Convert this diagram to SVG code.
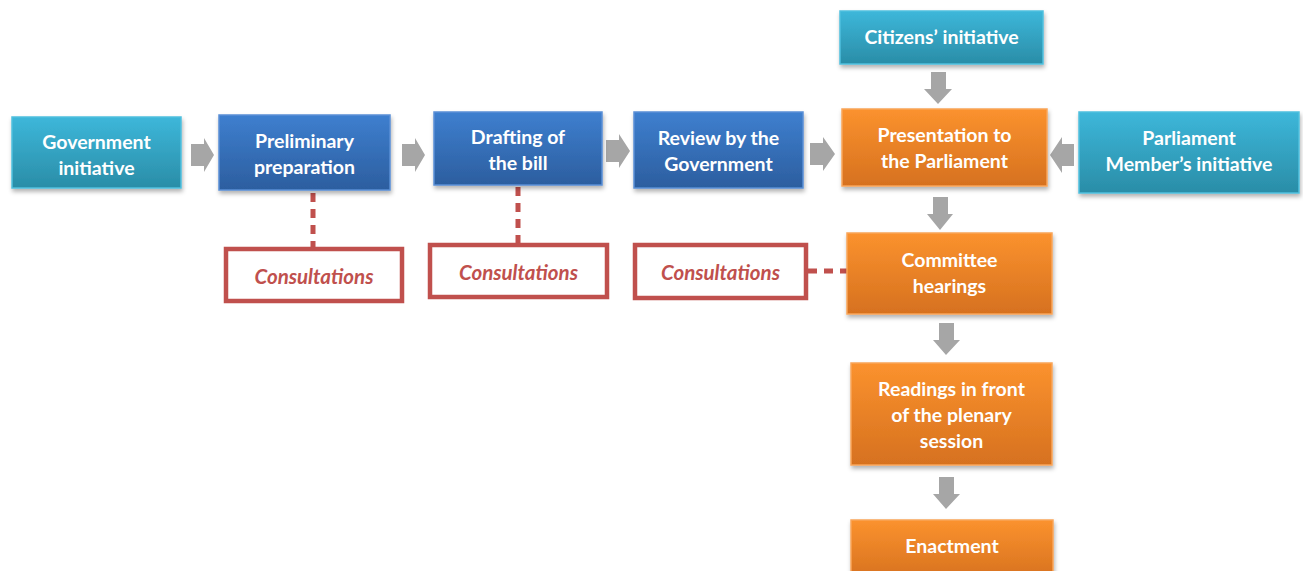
<svg xmlns="http://www.w3.org/2000/svg" width="1303" height="571" viewBox="0 0 1303 571">
<defs>
<linearGradient id="gCyan" x1="0" y1="0" x2="0" y2="1"><stop offset="0" stop-color="#3db7da"/><stop offset="1" stop-color="#2a8da7"/></linearGradient>
<linearGradient id="gBlue" x1="0" y1="0" x2="0" y2="1"><stop offset="0" stop-color="#3e7fcf"/><stop offset="1" stop-color="#2c5e9f"/></linearGradient>
<linearGradient id="gOrange" x1="0" y1="0" x2="0" y2="1"><stop offset="0" stop-color="#fb922e"/><stop offset="1" stop-color="#d6711f"/></linearGradient>
<filter id="sh" x="-10%" y="-10%" width="125%" height="140%"><feDropShadow dx="1" dy="3" stdDeviation="2" flood-color="#000" flood-opacity="0.3"/></filter>
</defs>
<style>
.cy{fill:url(#gCyan);stroke:#4fc0de;stroke-width:1.5;filter:url(#sh)}
.bl{fill:url(#gBlue);stroke:#5a8fd6;stroke-width:1.5;filter:url(#sh)}
.or{fill:url(#gOrange);stroke:#f9a55a;stroke-width:1.5;filter:url(#sh)}
.t{font-family:Lato,"Open Sans","Liberation Sans",sans-serif;font-weight:bold;font-size:19.5px;fill:#fff;text-anchor:middle}
.cb{fill:#fff;stroke:#c0504d;stroke-width:4.5}
.ct{font-family:Lato,"Open Sans","Liberation Sans",sans-serif;font-weight:bold;font-style:italic;font-size:20.5px;fill:#c0504d;text-anchor:middle}
.ar{fill:#a6a6a6}
.dash{stroke:#c0504d;stroke-width:5;stroke-dasharray:9,7;fill:none}
</style>
<g id="connectors">
<path class="ar" d="M191,144 H204 V138 L214,155 L204,172 V166 H191 Z"/>
<path class="ar" d="M402,144 H415 V138 L425,155 L415,172 V166 H402 Z"/>
<path class="ar" d="M606,140 H619 V134 L630,151 L619,168 V162 H606 Z"/>
<path class="ar" d="M810,143 H823 V137 L835,154 L823,171 V165 H810 Z"/>
<path class="ar" d="M1074,144 H1062 V137 L1050,155 L1062,173 V166 H1074 Z"/>
<path class="ar" d="M931,72 H946 V89 H952 L938,104 L924,89 H931 Z"/>
<path class="ar" d="M933,197 H948 V214 H953 L940,230 L927,214 H933 Z"/>
<path class="ar" d="M939,323 H954 V340 H960 L946,355 L933,340 H939 Z"/>
<path class="ar" d="M939,477 H954 V494 H960 L946,509 L933,494 H939 Z"/>
<path class="dash" d="M313,193 V249"/>
<path class="dash" d="M518,187 V244"/>
<path class="dash" d="M808,271 H847"/>
</g>
<g id="gov"><rect class="cy" x="12" y="117" width="169" height="71"/><text class="t" x="96.5" y="149">Government</text><text class="t" x="96.5" y="175">initiative</text></g>
<g id="prelim"><rect class="bl" x="219" y="115" width="171" height="75"/><text class="t" x="304.5" y="148">Preliminary</text><text class="t" x="304.5" y="174">preparation</text></g>
<g id="draft"><rect class="bl" x="434" y="112" width="168" height="73"/><text class="t" x="518" y="144">Drafting of</text><text class="t" x="518" y="170">the bill</text></g>
<g id="review"><rect class="bl" x="634" y="112" width="169" height="76"/><text class="t" x="718.5" y="145">Review by the</text><text class="t" x="718.5" y="171">Government</text></g>
<g id="citizens"><rect class="cy" x="840" y="11" width="203" height="53"/><text class="t" x="941.5" y="44">Citizens’ initiative</text></g>
<g id="presentation"><rect class="or" x="842" y="109" width="205" height="77"/><text class="t" x="944.5" y="142">Presentation to</text><text class="t" x="944.5" y="168">the Parliament</text></g>
<g id="member"><rect class="cy" x="1079" y="112" width="220" height="81"/><text class="t" x="1189" y="145">Parliament</text><text class="t" x="1189" y="171">Member’s initiative</text></g>
<g id="committee"><rect class="or" x="847" y="233" width="205" height="81"/><text class="t" x="949.5" y="267">Committee</text><text class="t" x="949.5" y="293">hearings</text></g>
<g id="readings"><rect class="or" x="851" y="363" width="201" height="102"/><text class="t" x="951.5" y="396">Readings in front</text><text class="t" x="951.5" y="422">of the plenary</text><text class="t" x="951.5" y="448">session</text></g>
<g id="enactment"><rect class="or" x="851" y="520" width="202" height="60"/><text class="t" x="952" y="553">Enactment</text></g>
<g id="cons1"><rect class="cb" x="226" y="249" width="176" height="52"/><text class="ct" x="314" y="284">Consultations</text></g>
<g id="cons2"><rect class="cb" x="430" y="245" width="177" height="52"/><text class="ct" x="518.5" y="280">Consultations</text></g>
<g id="cons3"><rect class="cb" x="635" y="245" width="171" height="53"/><text class="ct" x="720.5" y="280">Consultations</text></g>
</svg>
